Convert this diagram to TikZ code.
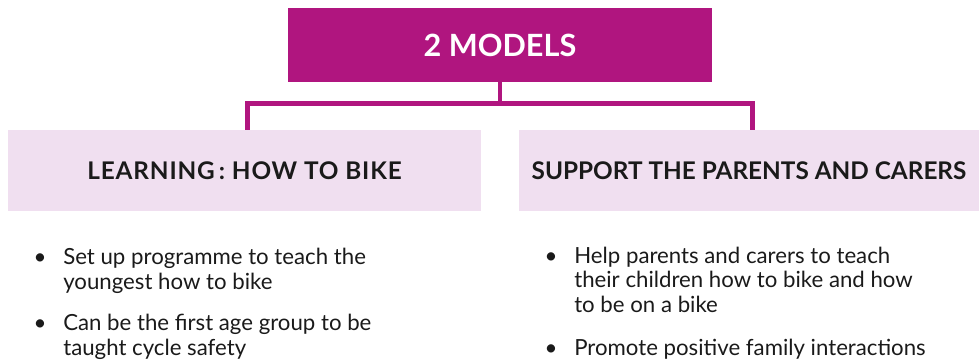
\documentclass[tikz,border=0pt]{standalone}
\usepackage{fontspec}
\setmainfont{Lato}
\definecolor{plum}{HTML}{B0157F}
\definecolor{blush}{HTML}{F0DFF0}
\definecolor{ink}{HTML}{1A1A1A}
\begin{document}
\begin{tikzpicture}[
        x=0.025cm, y=-0.025cm,
        every node/.style={text=ink},
        head/.style={fill=plum, minimum width=10.6cm, minimum height=1.85cm, inner sep=0pt, text=white, font=\fontsize{21.8}{24}\selectfont\bfseries},
        model/.style={fill=blush, minimum height=2.025cm, inner sep=0pt, font=\fontsize{17.3}{19}\selectfont\bfseries},
        point/.style={anchor=base west, align=left, inner sep=0pt, font=\fontsize{15.8}{17.4}\selectfont},
        link/.style={draw=plum, line width=3.2pt}
    ]
        \useasboundingbox (0,0) rectangle (979,360);
        \node[head] (title) at (500, 45) {2 MODELS};
        \node[model, minimum width=11.825cm] (learn)   at (244.5, 170.5) {\addfontfeature{LetterSpace=3.5}LEARNING\,: HOW TO BIKE};
        \node[model, minimum width=11.5cm]   (support) at (749, 170.5) {SUPPORT THE PARENTS AND CARERS};
        \coordinate (bar) at (500, 103.5);
        \draw[link] (title.south) -- (bar);
        \draw[link] ([xshift=2pt]learn.north) |- (bar) -| ([xshift=2.5pt]support.north);
        % base anchor sits on the last line
        \node[point] (learn1)   at (63, 289)  {\llap{\textbullet\hskip 12pt}Set up programme to teach the\\ youngest how to bike};
        \node[point] (learn2)   at (63, 355)  {\llap{\textbullet\hskip 12pt}Can be the first age group to be\\ taught cycle safety};
        \node[point] (support1) at (574, 312) {\llap{\textbullet\hskip 12pt}Help parents and carers to teach\\ their children how to bike and how\\ to be on a bike};
        \node[point] (support2) at (574, 355) {\llap{\textbullet\hskip 12pt}Promote positive family interactions};
    \end{tikzpicture}
\end{document}
